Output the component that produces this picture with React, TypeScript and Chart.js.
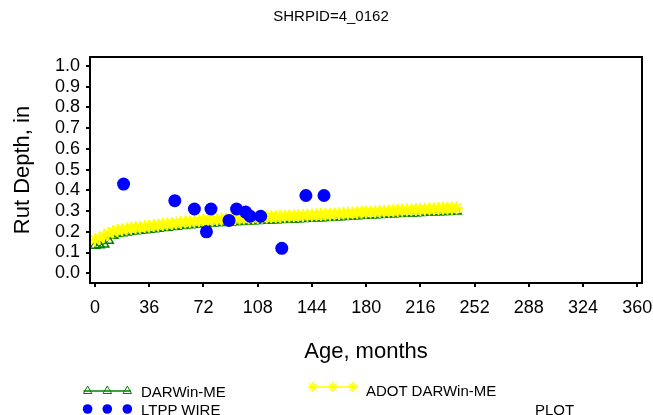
import React, { useEffect, useRef } from "react";
import { Chart, registerables } from "chart.js";

Chart.register(...registerables);

const TITLE = "SHRPID=4_0162";
const X_TITLE = "Age, months";
const Y_TITLE = "Rut Depth, in";

const xTicks = [0, 36, 72, 108, 144, 180, 216, 252, 288, 324, 360];
const yTicks = [0, 0.1, 0.2, 0.3, 0.4, 0.5, 0.6, 0.7, 0.8, 0.9, 1.0];

const modelAges = [
  0, 3, 6, 9, 12, 15, 18, 21, 24, 27, 30, 33, 36, 39, 42, 45, 48, 51, 54, 57,
  60, 63, 66, 69, 72, 75, 78, 81, 84, 87, 90, 93, 96, 99, 102, 105, 108, 111,
  114, 117, 120, 123, 126, 129, 132, 135, 138, 141, 144, 147, 150, 153, 156,
  159, 162, 165, 168, 171, 174, 177, 180, 183, 186, 189, 192, 195, 198, 201,
  204, 207, 210, 213, 216, 219, 222, 225, 228, 231, 234, 237, 240,
];

const darwinMe = [
  0.134, 0.136, 0.14, 0.158, 0.182, 0.19, 0.194, 0.198, 0.201, 0.204, 0.206,
  0.209, 0.211, 0.214, 0.216, 0.219, 0.221, 0.224, 0.226, 0.229, 0.231, 0.233,
  0.235, 0.237, 0.239, 0.24, 0.241, 0.243, 0.244, 0.245, 0.246, 0.248, 0.249,
  0.25, 0.251, 0.252, 0.253, 0.254, 0.255, 0.256, 0.257, 0.258, 0.259, 0.26,
  0.261, 0.262, 0.263, 0.264, 0.265, 0.266, 0.267, 0.268, 0.269, 0.27, 0.271,
  0.273, 0.274, 0.275, 0.276, 0.278, 0.279, 0.28, 0.281, 0.282, 0.283, 0.284,
  0.286, 0.287, 0.288, 0.289, 0.29, 0.291, 0.292, 0.293, 0.294, 0.295, 0.296,
  0.297, 0.297, 0.298, 0.299,
];

const adotDarwinMe = [
  0.16, 0.168, 0.18, 0.192, 0.2, 0.206, 0.21, 0.214, 0.217, 0.22, 0.222, 0.225,
  0.227, 0.23, 0.232, 0.235, 0.237, 0.24, 0.242, 0.245, 0.247, 0.249, 0.251,
  0.253, 0.255, 0.256, 0.257, 0.259, 0.26, 0.261, 0.262, 0.264, 0.265, 0.266,
  0.267, 0.268, 0.269, 0.27, 0.271, 0.272, 0.273, 0.274, 0.275, 0.276, 0.277,
  0.278, 0.279, 0.28, 0.281, 0.282, 0.283, 0.284, 0.285, 0.286, 0.287, 0.289,
  0.29, 0.291, 0.292, 0.294, 0.295, 0.296, 0.297, 0.298, 0.299, 0.3, 0.302,
  0.303, 0.304, 0.305, 0.306, 0.307, 0.308, 0.309, 0.31, 0.311, 0.312, 0.313,
  0.313, 0.314, 0.315,
];

const ltppAges = [19, 53, 66, 74, 77, 89, 94, 100, 103, 110, 124, 140, 152];
const ltppRut = [0.43, 0.35, 0.31, 0.2, 0.31, 0.255, 0.31, 0.295, 0.275, 0.275, 0.12, 0.375, 0.375];

const FONT = "'Liberation Sans', Arial, sans-serif";

const boxPlugin = {
  id: "boxPlugin",
  afterDraw(chart: any) {
    const { ctx, chartArea } = chart;
    ctx.save();
    ctx.strokeStyle = "#000";
    ctx.lineWidth = 2;
    ctx.strokeRect(chartArea.left, chartArea.top, chartArea.right - chartArea.left, chartArea.bottom - chartArea.top);
    ctx.restore();
  },
};

export default function App() {
  const ref = useRef<HTMLCanvasElement | null>(null);

  useEffect(() => {
    if (!ref.current) return;
    const green = modelAges.map((a, i) => ({ x: a, y: darwinMe[i] }));
    const yellow = modelAges.map((a, i) => ({ x: a, y: adotDarwinMe[i] }));
    const blue = ltppAges.map((a, i) => ({ x: a, y: ltppRut[i] }));
    const chart = new Chart(ref.current, {
      type: "scatter",
      data: {
        datasets: [
          {
            label: "LTPP WIRE",
            data: blue,
            showLine: false,
            pointStyle: "circle",
            pointRadius: 6.5,
            backgroundColor: "#0000ff",
            borderColor: "#0000ff",
            borderWidth: 0,
          },
          {
            label: "ADOT DARWin-ME",
            data: yellow,
            showLine: true,
            pointStyle: "star",
            pointRadius: 6.5,
            borderColor: "#ffff00",
            backgroundColor: "#ffff00",
            borderWidth: 2,
            pointBorderWidth: 2,
          },
          {
            label: "DARWin-ME",
            data: green,
            showLine: true,
            pointStyle: "triangle",
            pointRadius: 5.5,
            borderColor: "#008000",
            backgroundColor: "rgba(0,0,0,0)",
            borderWidth: 1,
            pointBorderWidth: 1.5,
          },
        ],
      },
      options: {
        animation: false,
        responsive: false,
        devicePixelRatio: 1,
        layout: { padding: { top: 57, right: 11, left: 0, bottom: 0 } },
        plugins: { legend: { display: false }, tooltip: { enabled: false }, title: { display: false } },
        scales: {
          x: {
            type: "linear",
            min: -3.3,
            max: 363.1,
            afterBuildTicks: (s: any) => {
              s.ticks = xTicks.map((v) => ({ value: v }));
            },
            afterFit: (s: any) => {
              s.height = 132;
              s.paddingLeft = 0;
              s.paddingRight = 0;
            },
            grid: { drawOnChartArea: false, drawTicks: true, tickLength: 4, color: "#000", lineWidth: 2 },
            border: { display: false },
            ticks: {
              color: "#000",
              font: { family: FONT, size: 18 },
              padding: 10,
              maxRotation: 0,
              autoSkip: false,
              callback: (v: any) => String(v),
            },
          },
          y: {
            type: "linear",
            min: -0.047,
            max: 1.043,
            afterBuildTicks: (s: any) => {
              s.ticks = yTicks.map((v) => ({ value: v }));
            },
            afterFit: (s: any) => {
              s.width = 90;
              s.paddingTop = 0;
              s.paddingBottom = 0;
            },
            grid: { drawOnChartArea: false, drawTicks: true, tickLength: 4, color: "#000", lineWidth: 2 },
            border: { display: false },
            ticks: {
              color: "#000",
              font: { family: FONT, size: 18 },
              padding: 6,
              autoSkip: false,
              callback: (v: any) => Number(v).toFixed(1),
            },
          },
        },
      },
      plugins: [boxPlugin],
    });
    return () => chart.destroy();
  }, []);

  const text = (s: string, style: React.CSSProperties) => (
    <div style={{ position: "absolute", fontFamily: FONT, color: "#000", whiteSpace: "nowrap", lineHeight: 1, ...style }}>{s}</div>
  );

  return (
    <div style={{ position: "fixed", left: 0, top: 0, width: 653, height: 415, background: "#fff", overflow: "hidden" }}>
      <canvas ref={ref} width={653} height={415} style={{ display: "block", position: "absolute", left: 0, top: 0 }} />
      {text(TITLE, { left: 331, top: 15, fontSize: 15, transform: "translate(-50%,-50%)" })}
      {text(X_TITLE, { left: 366, top: 351, fontSize: 22, transform: "translate(-50%,-50%)" })}
      {text(Y_TITLE, { left: 22, top: 170, fontSize: 22, transform: "translate(-50%,-50%) rotate(-90deg)" })}
      <svg width={653} height={415} style={{ position: "absolute", left: 0, top: 0, pointerEvents: "none" }}>
        <line x1={83.5} y1={391} x2={131} y2={391} stroke="#008000" strokeWidth={1.3} />
        {[87.6, 107.3, 127.3].map((cx, i) => (
          <polygon key={"t" + i} points={`${cx},${386} ${cx - 4.2},${393.5} ${cx + 4.2},${393.5}`} fill="none" stroke="#008000" strokeWidth={1} />
        ))}
        <line x1={309} y1={387} x2={357} y2={387} stroke="#ffff00" strokeWidth={1.5} />
        {[313, 333, 353].map((cx, i) => (
          <g key={"s" + i} stroke="#ffff00" strokeWidth={1.5}>
            <line x1={cx - 5} y1={387} x2={cx + 5} y2={387} />
            <line x1={cx} y1={382} x2={cx} y2={392} />
            <line x1={cx - 3.5} y1={383.5} x2={cx + 3.5} y2={390.5} />
            <line x1={cx - 3.5} y1={390.5} x2={cx + 3.5} y2={383.5} />
          </g>
        ))}
        {[87.6, 107.3, 127.3].map((cx, i) => (
          <circle key={"c" + i} cx={cx} cy={409} r={4.8} fill="#0000ff" />
        ))}
      </svg>
      {text("DARWin-ME", { left: 141, top: 391, fontSize: 15, transform: "translateY(-50%)" })}
      {text("ADOT DARWin-ME", { left: 366, top: 390, fontSize: 15, transform: "translateY(-50%)" })}
      {text("LTPP WIRE", { left: 141, top: 409, fontSize: 15, transform: "translateY(-50%)" })}
      {text("PLOT", { left: 535, top: 409, fontSize: 15, transform: "translateY(-50%)" })}
    </div>
  );
}
